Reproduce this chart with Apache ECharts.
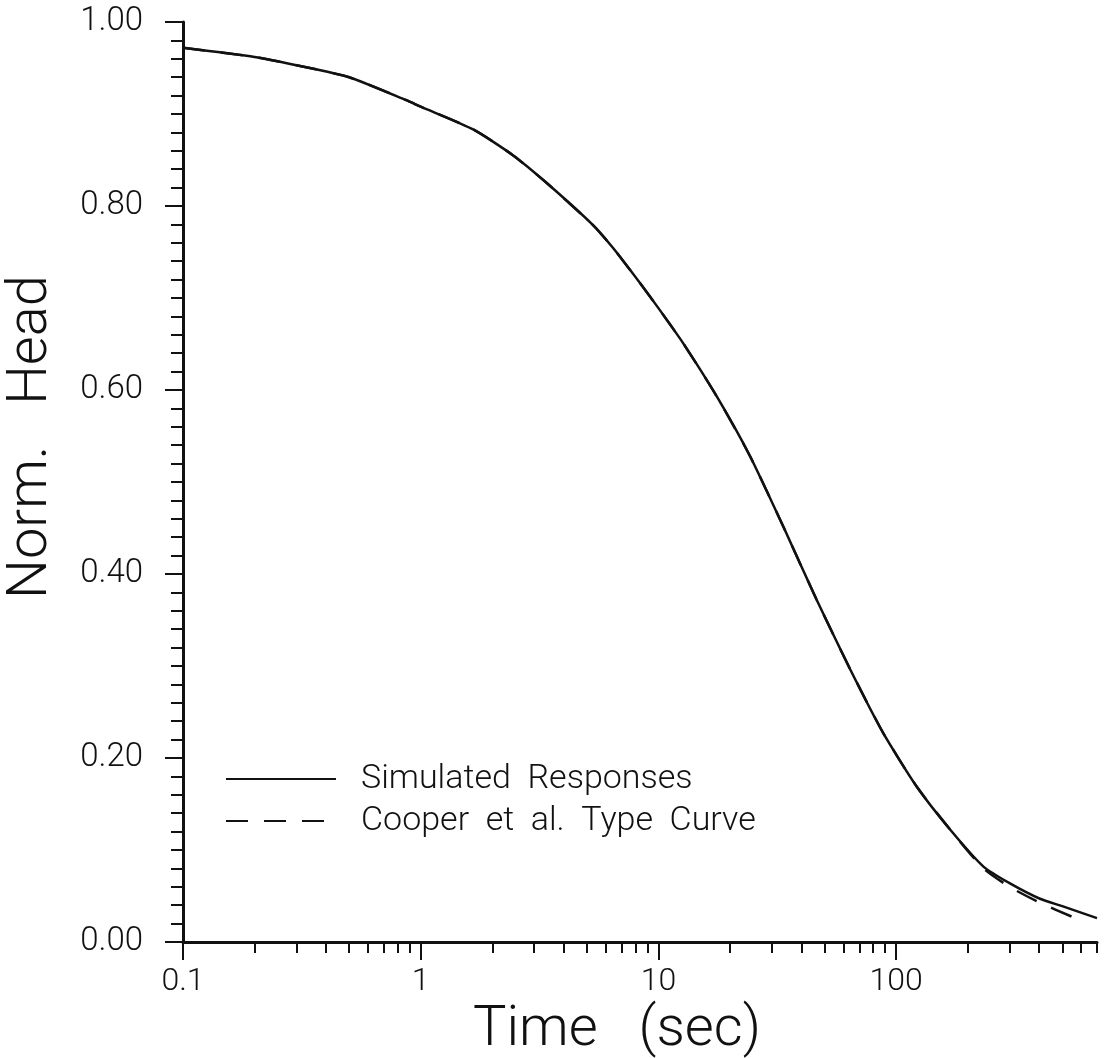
<!DOCTYPE html>
<html>
<head>
<meta charset="utf-8">
<script src="https://cdn.jsdelivr.net/npm/echarts@6/dist/echarts.min.js"></script>
<style>
  html, body { margin: 0; padding: 0; background: #fff; }
  #chart { width: 1108px; height: 1058px; }
</style>
</head>
<body>
<div id="chart"></div>
<script>
// values
const simTime = [0.1, 0.2, 0.3, 0.5, 0.87, 1.0, 1.67, 2.45, 3.39, 5.32, 6.46, 8.38, 10, 12.7, 17.6, 24.3, 33.6, 46.3, 63.9, 88.3, 122, 169, 233, 300, 403, 500, 700]
const simHead = [0.972, 0.962, 0.953, 0.940, 0.915, 0.908, 0.883, 0.855, 0.825, 0.779, 0.754, 0.716, 0.689, 0.651, 0.593, 0.528, 0.451, 0.372, 0.297, 0.227, 0.169, 0.122, 0.082, 0.064, 0.047, 0.039, 0.026]
const cooperTime = [0.1, 0.2, 0.3, 0.5, 0.87, 1.0, 1.67, 2.45, 3.39, 5.32, 6.46, 8.38, 10, 12.7, 17.6, 24.3, 33.6, 46.3, 63.9, 88.3, 122, 169, 233, 300, 400, 555]
const cooperHead = [0.972, 0.962, 0.953, 0.940, 0.915, 0.908, 0.883, 0.855, 0.825, 0.779, 0.754, 0.716, 0.689, 0.651, 0.593, 0.528, 0.451, 0.372, 0.297, 0.227, 0.169, 0.122, 0.080, 0.060, 0.043, 0.027]

const majorTicks = [0.1, 1, 10, 100]
const minorTicks = [0.2, 0.3, 0.4, 0.5, 0.6, 0.7, 0.8, 0.9, 2, 3, 4, 5, 6, 7, 8, 9,
  20, 30, 40, 50, 60, 70, 80, 90, 200, 300, 400, 500, 600, 700]

const FONT = 'Roboto, "DejaVu Sans", sans-serif'
const INK = '#111'

const pairs = (xs, ys) => xs.map((x, i) => [x, ys[i]])

const chart = echarts.init(document.getElementById('chart'))
chart.setOption({
  animation: false,
  backgroundColor: '#fff',
  grid: { left: 183, right: 11, top: 22, bottom: 116, outerBoundsMode: 'none', containLabel: false },
  legend: {
    orient: 'vertical',
    left: 220, top: 757,
    itemWidth: 110, itemHeight: 14, itemGap: 8,
    itemStyle: { opacity: 0 },
    textStyle: { fontFamily: FONT, fontWeight: 300, fontSize: 34, color: INK, padding: [0, 0, 0, 20] },
    data: ['Simulated  Responses', 'Cooper  et  al.  Type  Curve']
  },
  xAxis: [
    {
      type: 'log', logBase: 10, min: 0.1, max: 700,
      name: 'Time   (sec)', nameLocation: 'middle', nameGap: 50,
      nameTextStyle: { fontFamily: FONT, fontWeight: 300, fontSize: 56, color: INK, padding: [0, 46, 0, 0] },
      axisLine: { lineStyle: { color: INK, width: 3 } },
      axisTick: { customValues: majorTicks, length: 18, lineStyle: { color: INK, width: 2 } },
      axisLabel: {
        customValues: majorTicks, margin: 24,
        fontFamily: FONT, fontWeight: 300, fontSize: 32, color: INK,
        formatter: v => String(+v.toPrecision(3))
      },
      splitLine: { show: false }
    },
    {
      type: 'log', logBase: 10, min: 0.1, max: 700, position: 'bottom',
      axisLine: { show: false },
      axisTick: { customValues: minorTicks, length: 11, lineStyle: { color: INK, width: 2 } },
      axisLabel: { show: false },
      splitLine: { show: false }
    }
  ],
  yAxis: {
    type: 'value', min: 0, max: 1, interval: 0.2,
    name: 'Norm.   Head', nameLocation: 'middle', nameGap: 123,
    nameTextStyle: { fontFamily: FONT, fontWeight: 300, fontSize: 56, color: INK, padding: [0, 0, 0, 90] },
    axisLine: { show: true, lineStyle: { color: INK, width: 3 } },
    axisTick: { show: true, length: 18, lineStyle: { color: INK, width: 2 } },
    minorTick: { show: true, splitNumber: 10, length: 12, lineStyle: { color: INK, width: 2 } },
    axisLabel: {
      margin: 40, fontFamily: FONT, fontWeight: 300, fontSize: 33, color: INK,
      formatter: v => v.toFixed(2)
    },
    splitLine: { show: false }
  },
  series: [
    {
      name: 'Simulated  Responses', type: 'line', xAxisIndex: 0,
      data: pairs(simTime, simHead), smooth: 0.2,
      symbol: 'none', showSymbol: false,
      lineStyle: { color: INK, width: 2.5 }, itemStyle: { color: INK }
    },
    {
      name: 'Cooper  et  al.  Type  Curve', type: 'line', xAxisIndex: 0,
      data: pairs(cooperTime, cooperHead), smooth: 0.2,
      symbol: 'none', showSymbol: false,
      lineStyle: { color: INK, width: 2.5, type: [22, 16] }, itemStyle: { color: INK }
    }
  ]
})
</script>
</body>
</html>
